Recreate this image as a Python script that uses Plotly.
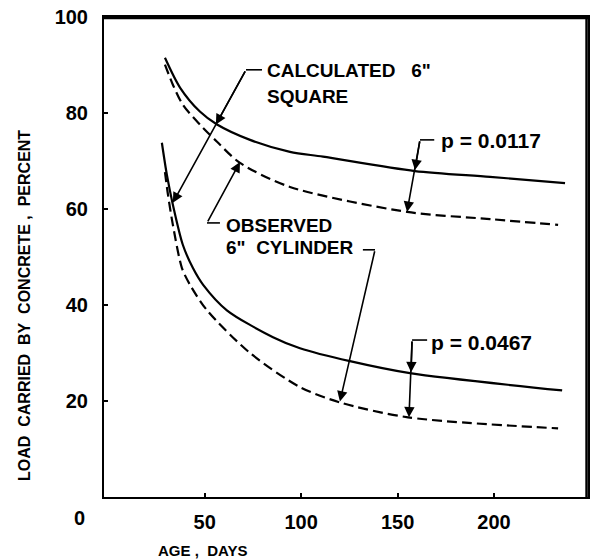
import plotly.graph_objects as go

# ---- data (age in days, load carried by concrete in %) ----
calc_0117_age = [29.4, 37.2, 47.5, 56.4, 73.5, 94.2, 111.3, 159.0, 197.9, 236.8]
calc_0117_load = [91.5, 85.3, 80.3, 77.6, 74.4, 71.9, 70.9, 67.9, 66.7, 65.4]

obs_0117_age = [29.4, 33.5, 38.7, 47.5, 56.4, 68.3, 94.2, 154.9, 197.9, 233.2]
obs_0117_load = [90.1, 85.9, 81.7, 77.6, 74.0, 69.6, 64.6, 59.4, 57.9, 56.7]

calc_0467_age = [27.8, 30.4, 33.5, 38.7, 43.9, 49.2, 61.5, 85.4, 99.4, 125.3, 156.4, 235.3]
calc_0467_load = [73.8, 67.1, 60.9, 52.5, 47.7, 44.2, 38.9, 33.3, 31.0, 28.3, 25.8, 22.2]

obs_0467_age = [29.4, 31.0, 33.5, 38.2, 42.4, 51.2, 73.5, 99.4, 120.1, 155.4, 233.2]
obs_0467_load = [67.7, 62.9, 56.7, 47.7, 44.2, 38.9, 30.0, 22.9, 19.7, 16.6, 14.3]

x_ticks = [50, 100, 150, 200]
y_ticks = [20, 40, 60, 80, 100]

FONT = "Liberation Sans"
BLACK = "#000000"

fig = go.Figure()

def add_curve(x, y, dashed):
    fig.add_trace(go.Scatter(
        x=x, y=y, mode="lines",
        line=dict(color=BLACK, width=2.2, shape="spline", smoothing=0.8,
                  dash="10px,5px" if dashed else "solid"),
        hoverinfo="skip", showlegend=False))

add_curve(calc_0117_age, calc_0117_load, False)
add_curve(obs_0117_age, obs_0117_load, True)
add_curve(calc_0467_age, calc_0467_load, False)
add_curve(obs_0467_age, obs_0467_load, True)

annotations = []
shapes = []

def arrow(tail, tip):
    annotations.append(dict(
        x=tip[0], y=tip[1], ax=tail[0], ay=tail[1],
        xref="x", yref="y", axref="x", ayref="y",
        text="", showarrow=True, arrowhead=2, arrowsize=1.3,
        arrowwidth=1.6, arrowcolor=BLACK, standoff=0, startstandoff=0))

def seg(p0, p1, ref="x"):
    shapes.append(dict(type="line", xref=ref, yref=ref.replace("x", "y"),
                       x0=p0[0], y0=p0[1], x1=p1[0], y1=p1[1],
                       line=dict(color=BLACK, width=1.6)))

def label(x, y, text, size, anchor="left"):
    annotations.append(dict(
        x=x, y=y, xref="x", yref="y", text=text, showarrow=False,
        xanchor=anchor, yanchor="middle", align="left",
        font=dict(family=FONT, size=size, color=BLACK, weight="bold")))

# CALCULATED 6" SQUARE
seg((71.4, 89.0), (79.7, 89.0))
arrow((71.4, 89.0), (55.8, 77.6))
arrow((71.4, 89.0), (33.5, 61.3))
label(81.2, 88.9, "CALCULATED\u00a0\u00a0\u00a06\"", 19)
label(81.2, 83.4, "SQUARE", 19)

# OBSERVED 6" CYLINDER
seg((51.2, 57.1), (57.9, 57.1))
arrow((51.2, 57.1), (68.3, 69.8))
label(60.1, 56.6, "OBSERVED", 19)
label(60.1, 52.0, "6\"\u00a0\u00a0CYLINDER", 19)
seg((132.0, 51.5), (138.3, 51.5))
arrow((138.3, 51.5), (120.1, 19.9))

# p = 0.0117
seg((161.6, 74.4), (169.0, 74.4))
arrow((161.6, 74.4), (159.0, 68.1))
arrow((161.6, 74.4), (154.9, 59.4))
label(171.5, 74.2, "p = 0.0117", 21)

# p = 0.0467
seg((157.5, 32.7), (165.3, 32.7))
arrow((157.5, 32.7), (157.0, 26.0))
arrow((157.5, 32.7), (155.9, 16.6))
label(166.5, 32.2, "p = 0.0467", 21)

# frame around the plotting area (top and right edges drawn explicitly)
frame = dict(color=BLACK, width=2.5)
shapes.append(dict(type="line", xref="paper", yref="paper", x0=0, y0=0.998, x1=1, y1=0.998,
                   line=frame, layer="above"))
shapes.append(dict(type="line", xref="paper", yref="paper", x0=0.997, y0=0, x1=0.997, y1=1,
                   line=frame, layer="above"))

fig.update_layout(
    width=592, height=559,
    margin=dict(l=104, r=4, t=17, b=62, autoexpand=False),
    paper_bgcolor="white", plot_bgcolor="white",
    annotations=annotations, shapes=shapes,
    showlegend=False,
)

# pixel-positioned labels (origin "0", axis titles) in paper coordinates
def px_to_paper(px, py):
    return (px - 104) / 484, (497 - py) / 480

ox, oy = px_to_paper(79, 518)
fig.add_annotation(x=ox, y=oy, xref="paper", yref="paper",
                   text="0", showarrow=False, xanchor="center", yanchor="middle",
                   font=dict(family=FONT, size=20, color=BLACK, weight="bold"))

ax_x, ax_y = px_to_paper(202, 550)
fig.add_annotation(x=ax_x, y=ax_y, xref="paper", yref="paper",
                   text="AGE\u00a0,\u00a0\u00a0DAYS", showarrow=False,
                   xanchor="center", yanchor="middle",
                   font=dict(family=FONT, size=15, color=BLACK, weight="bold"))

ay_x, ay_y = px_to_paper(24, 306)
fig.add_annotation(x=ay_x, y=ay_y, xref="paper", yref="paper",
                   text="LOAD\u00a0\u00a0CARRIED\u00a0\u00a0BY\u00a0\u00a0CONCRETE\u00a0,\u00a0\u00a0PERCENT",
                   showarrow=False, textangle=-90,
                   xanchor="center", yanchor="middle",
                   font=dict(family=FONT, size=16, color=BLACK, weight="bold"))

fig.update_xaxes(
    range=[-2.2, 248.7], tickvals=x_ticks, ticktext=[str(v) for v in x_ticks],
    showgrid=False, zeroline=False, showline=True, mirror=True,
    linecolor=BLACK, linewidth=2, ticks="inside", ticklen=4, tickwidth=2,
    tickcolor=BLACK, ticklabelstandoff=6,
    tickfont=dict(family=FONT, size=20, color=BLACK, weight="bold"),
)
fig.update_yaxes(
    range=[0, 100], tickvals=y_ticks, ticktext=[str(v) for v in y_ticks],
    showgrid=False, zeroline=False, showline=True, mirror=True,
    linecolor=BLACK, linewidth=2, ticks="inside", ticklen=4, tickwidth=2,
    tickcolor=BLACK, ticklabelstandoff=10,
    tickfont=dict(family=FONT, size=20, color=BLACK, weight="bold"),
)

fig.write_html(
    "out.html",
    config={"displayModeBar": False},
    post_script="document.body.style.margin='0';document.body.style.padding='0';",
)
